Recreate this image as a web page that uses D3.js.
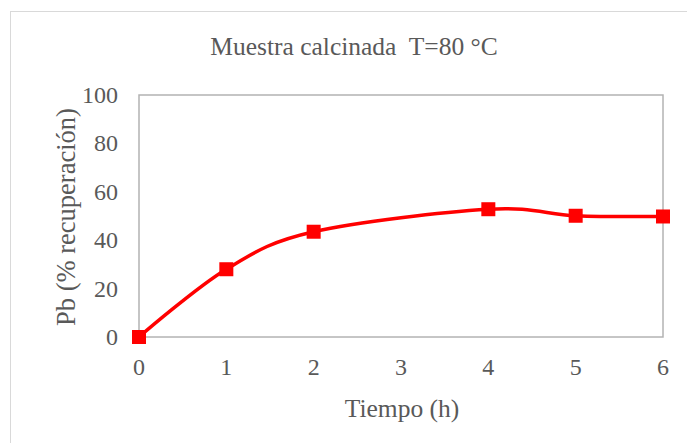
<!DOCTYPE html>
<html>
<head>
<meta charset="utf-8">
<script src="https://cdn.jsdelivr.net/npm/d3@7"></script>
<style>
  body { margin: 0; background: #fff; }
  text { font-family: "Liberation Serif", "Times New Roman", serif; fill: #595959; }
</style>
</head>
<body>
<div id="chart"></div>
<script>
// data
const hours = [0, 1, 2, 4, 5, 6];
const recovery = [0, 28, 43.5, 52.8, 50.1, 49.8];
const xTicks = [0, 1, 2, 3, 4, 5, 6];
const yTicks = [0, 20, 40, 60, 80, 100];

const width = 687, height = 443;
const margin = {top: 95, right: 24, bottom: 106, left: 139};

const svg = d3.select("#chart").append("svg")
    .attr("width", width)
    .attr("height", height);

// outer chart border (runs off the right and bottom edge)
svg.append("rect")
    .attr("x", 10.5).attr("y", 11.5)
    .attr("width", width).attr("height", height)
    .attr("fill", "none")
    .attr("stroke", "#d9d9d9");

const x = d3.scaleLinear().domain([0, 6]).range([margin.left, width - margin.right]);
const y = d3.scaleLinear().domain([0, 100]).range([height - margin.bottom, margin.top]);

// plot area box
svg.append("rect")
    .attr("x", x(0)).attr("y", y(100))
    .attr("width", x(6) - x(0)).attr("height", y(0) - y(100))
    .attr("fill", "none")
    .attr("stroke", "#b3b3b3")
    .attr("stroke-width", 1.5);

// tick labels
svg.selectAll(".xt").data(xTicks).join("text")
    .attr("x", d => x(d))
    .attr("y", y(0) + 38)
    .attr("text-anchor", "middle")
    .attr("font-size", 24)
    .text(d => d);

svg.selectAll(".yt").data(yTicks).join("text")
    .attr("x", x(0) - 21)
    .attr("y", d => y(d) + 8)
    .attr("text-anchor", "end")
    .attr("font-size", 24)
    .text(d => d);

// titles
svg.append("text")
    .attr("x", 354).attr("y", 55)
    .attr("text-anchor", "middle")
    .attr("font-size", 25.5)
    .text("Muestra calcinada\u00a0 T=80 °C");

svg.append("text")
    .attr("x", 402).attr("y", 417)
    .attr("text-anchor", "middle")
    .attr("font-size", 25.5)
    .text("Tiempo (h)");

svg.append("text")
    .attr("transform", "translate(75,217) rotate(-90)")
    .attr("text-anchor", "middle")
    .attr("font-size", 26.5)
    .text("Pb (% recuperación)");

// smoothed series line
const pts = hours.map((h, i) => [h, recovery[i]]);
const line = d3.line()
    .x(d => x(d[0]))
    .y(d => y(d[1]))
    .curve(d3.curveCardinal.tension(0));

svg.append("path")
    .datum(pts)
    .attr("d", line)
    .attr("fill", "none")
    .attr("stroke", "#ff0000")
    .attr("stroke-width", 3.5);

const ms = 14;
svg.selectAll(".mk").data(pts).join("rect")
    .attr("x", d => x(d[0]) - ms / 2)
    .attr("y", d => y(d[1]) - ms / 2)
    .attr("width", ms).attr("height", ms)
    .attr("fill", "#ff0000");
</script>
</body>
</html>
